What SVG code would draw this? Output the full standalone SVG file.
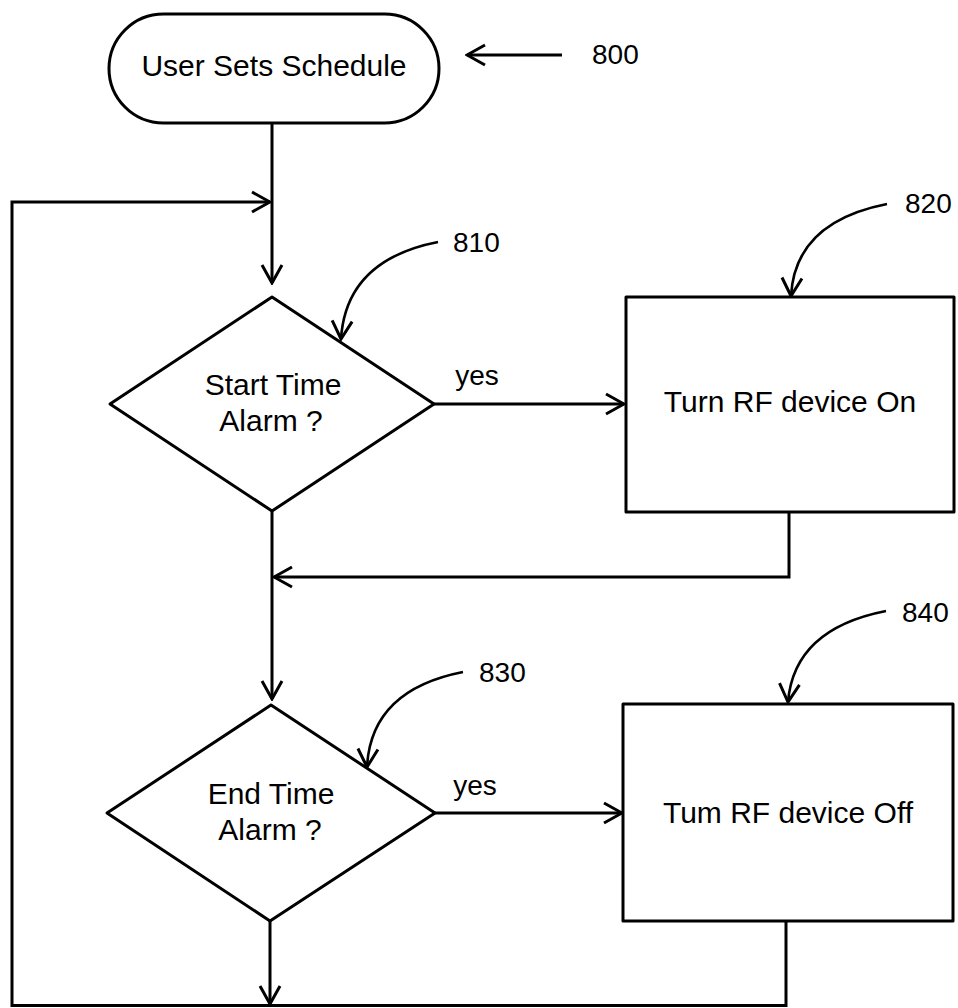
<svg xmlns="http://www.w3.org/2000/svg" width="958" height="1008" viewBox="0 0 958 1008">
<defs>
<style>
.shape{fill:#fff;stroke:#000;stroke-width:3;stroke-linejoin:round}
.line{fill:none;stroke:#000;stroke-width:3}
.leader{fill:none;stroke:#000;stroke-width:2.6}
.t{font-family:"Liberation Sans",Arial,sans-serif;font-size:30px;fill:#000;text-anchor:middle}
.n{font-family:"Liberation Sans",Arial,sans-serif;font-size:28px;fill:#000}
</style>
<marker id="arr" markerUnits="userSpaceOnUse" viewBox="-2 -12 22 24" markerWidth="22" markerHeight="24" refX="18" refY="0" orient="auto">
<path d="M0,-10 L18,0 L0,10" fill="none" stroke="#000" stroke-width="3"/>
</marker>
</defs>
<rect width="958" height="1008" fill="#fff"/>
<g id="connectors">
<path class="line" d="M272,123 V283" marker-end="url(#arr)"/>
<path class="line" d="M272,511 V699" marker-end="url(#arr)"/>
<path class="line" d="M434,404 H624" marker-end="url(#arr)"/>
<path class="line" d="M789,512 V577 H274" marker-end="url(#arr)"/>
<path class="line" d="M435,813 H622" marker-end="url(#arr)"/>
<path class="line" d="M270,921 V1004" marker-end="url(#arr)"/>
<path class="line" d="M786,921 V1005.5 H12 V202 H270" marker-end="url(#arr)"/>
<path class="line" d="M562,55 H467" marker-end="url(#arr)"/>
<path class="leader" d="M438,242 Q346,260 341,339" marker-end="url(#arr)"/>
<path class="leader" d="M887,204 Q795,222 791,296" marker-end="url(#arr)"/>
<path class="leader" d="M463,672 Q371,690 367,767" marker-end="url(#arr)"/>
<path class="leader" d="M886,611 Q794,629 788,702" marker-end="url(#arr)"/>
<text class="t" x="477" y="385" style="font-size:28px">yes</text>
<text class="t" x="475" y="795" style="font-size:28px">yes</text>
</g>
<g id="n800">
<rect class="shape" x="109" y="14" width="330" height="109" rx="54.5" ry="54.5"/>
<text class="t" x="274" y="76">User Sets Schedule</text>
<text class="n" x="592" y="64">800</text>
</g>
<g id="n810">
<polygon class="shape" points="272,297 434,404 272,511 110,404"/>
<text class="t" x="273" y="395">Start Time</text>
<text class="t" x="271" y="431">Alarm ?</text>
<text class="n" x="453" y="252">810</text>
</g>
<g id="n820">
<rect class="shape" x="626" y="297" width="328" height="215"/>
<text class="t" x="790" y="412">Turn RF device On</text>
<text class="n" x="905" y="213">820</text>
</g>
<g id="n830">
<polygon class="shape" points="271,705 435,813 270,921 107,813"/>
<text class="t" x="271" y="804">End Time</text>
<text class="t" x="270" y="840">Alarm ?</text>
<text class="n" x="479" y="682">830</text>
</g>
<g id="n840">
<rect class="shape" x="623" y="704" width="330" height="217"/>
<text class="t" x="788" y="823">Tum RF device Off</text>
<text class="n" x="902" y="622">840</text>
</g>
</svg>
